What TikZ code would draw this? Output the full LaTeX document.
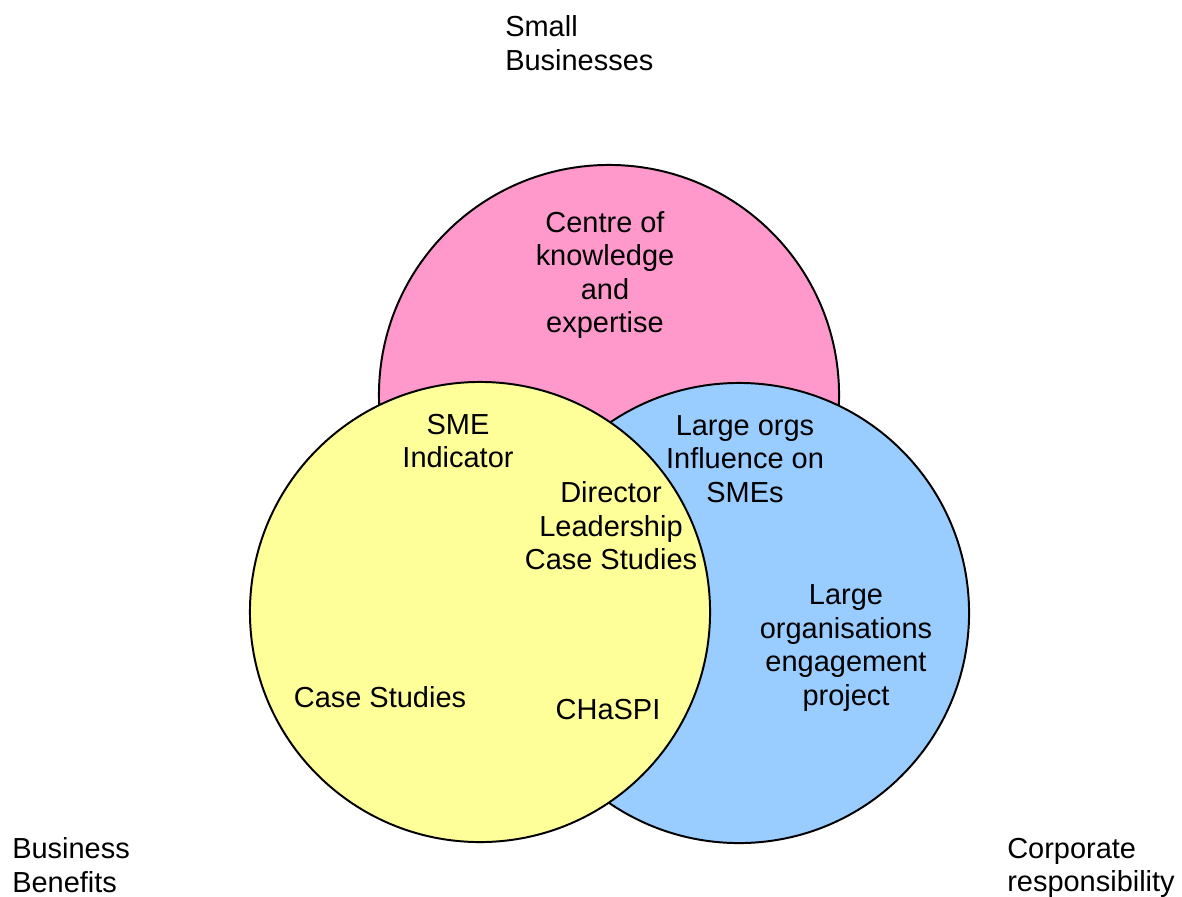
\documentclass[tikz,border=0pt]{standalone}
\usepackage{fontspec}
\setmainfont{Liberation Sans}
\definecolor{smepink}{HTML}{FF99CC}
\definecolor{smeyellow}{HTML}{FFFF99}
\definecolor{smeblue}{HTML}{99CCFF}
\tikzset{
  ring/.style={draw=black,line width=1.4pt},
  lbl/.style={inner sep=0pt,align=center,font=\fontsize{20.6}{23.8}\selectfont},
  side/.style={lbl,align=left,anchor=west}
}
\begin{document}
\begin{tikzpicture}[x=0.025cm,y=-0.025cm, line join=round]
            \useasboundingbox (0,0) rectangle (1182,896);
            % the three sets, yellow drawn last so it sits on top
            \filldraw[ring,fill=smepink] (609,395) circle (5.75cm);
            \filldraw[ring,fill=smeblue] (739,613) circle (5.75cm);
            \filldraw[ring,fill=smeyellow] (480,612) circle (5.75cm);
            % headings outside the circles
            \node[side] (small) at (505,43) {Small\\Businesses};
            \node[side] (benefits) at (12,865) {Business\\Benefits};
            \node[side] (corporate) at (1007,868) {Corporate\\responsibility};
            % what sits in each region
            \node[lbl] (centre) at (605,275) {Centre of\\knowledge\\and\\expertise};
            \node[lbl] (indicator) at (458,441) {SME\\Indicator};
            \node[lbl] (director) at (611,526) {Director\\Leadership\\Case Studies};
            \node[lbl] (influence) at (745,459) {Large orgs\\Influence on\\SMEs};
            \node[lbl] (engage) at (846,648) {Large\\organisations\\engagement\\project};
            \node[lbl] (cases) at (380,697) {Case Studies};
            \node[lbl] (chaspi) at (608,710) {CHaSPI};
\end{tikzpicture}
\end{document}
